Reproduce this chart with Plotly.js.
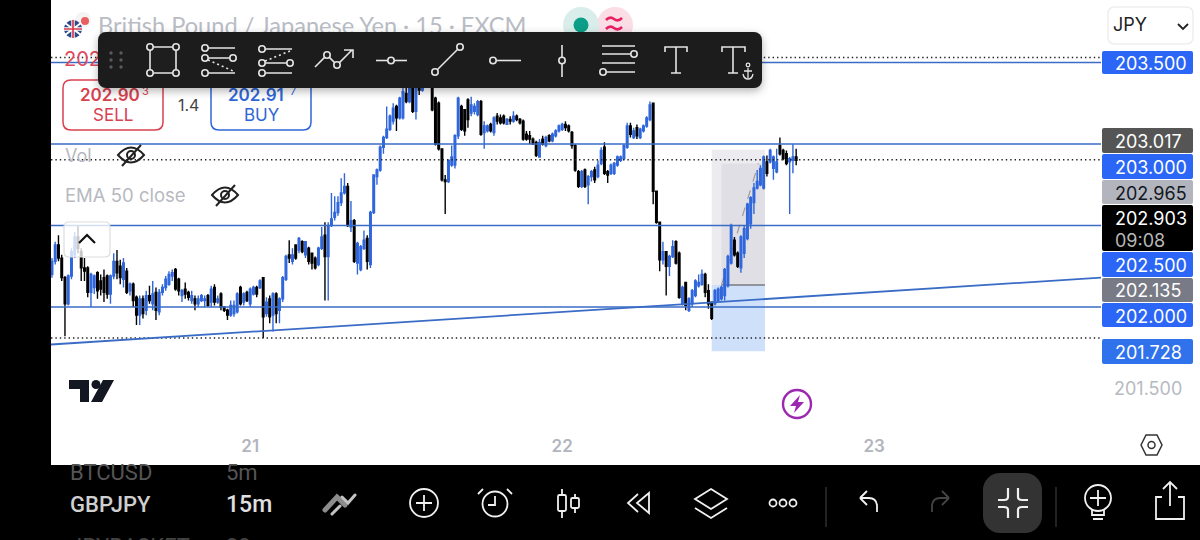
<!DOCTYPE html>
<html><head><meta charset="utf-8">
<script src="https://cdn.plot.ly/plotly-3.0.1.min.js"></script>
<style>html,body{margin:0;padding:0;background:#000;width:1200px;height:540px;overflow:hidden}
#chart{position:absolute;left:0;top:0;width:1200px;height:540px}
#over{position:absolute;left:0;top:0;pointer-events:none}</style></head>
<body><div id="chart"></div>
<svg id="over" width="1200" height="540" viewBox="0 0 1200 540" fill="none">
<defs><filter id="sh" x="-5%" y="-20%" width="110%" height="150%"><feDropShadow dx="0" dy="3" stdDeviation="4" flood-color="#000" flood-opacity=".3"/></filter></defs>
<!-- flags -->
<circle cx="83" cy="20" r="8" fill="#f4f4f4"/><circle cx="85" cy="21" r="4" fill="#e8605f"/>
<circle cx="73" cy="29" r="9" fill="#2c4a8a"/><path d="M65 23L81 35M81 23L65 35" stroke="#fff" stroke-width="2"/><path d="M73 20V38M64 29H82" stroke="#fff" stroke-width="3.4"/><path d="M73 20V38M64 29H82" stroke="#d83a4a" stroke-width="1.7"/>
<!-- status dots -->
<circle cx="615" cy="25" r="18" fill="#fbdde6"/><circle cx="581" cy="25" r="18" fill="#d9eeea"/><circle cx="581" cy="25" r="7.5" fill="#0b9e88"/>
<path d="M606 20q4-4 8-1t8-1M606 29q4-4 8-1t8-1" stroke="#e91e63" stroke-width="2.6"/>
<!-- eye-slash icons -->
<g stroke="#222" stroke-width="2"><g><path d="M118 155q13-15 26 0q-13 15-26 0z"/><circle cx="131" cy="155" r="4"/><path d="M122 166L141 145"/></g>
<g transform="translate(94,40)"><path d="M118 155q13-15 26 0q-13 15-26 0z"/><circle cx="131" cy="155" r="4"/><path d="M122 166L141 145"/></g></g>
<!-- collapse chevron -->
<path d="M79 243L87 235L95 243" stroke="#111" stroke-width="2.2"/>
<!-- TV logo -->
<path d="M69 380H89V402H80V389H69ZM103 380H114L102 402H91Z" fill="#131722"/><circle cx="96" cy="384.5" r="4.5" fill="#131722"/>
<!-- bolt -->
<circle cx="797" cy="404" r="14" stroke="#9c27b0" stroke-width="2.4"/><path d="M800 395L790 406H796L794 413L804 402H798Z" fill="#9c27b0"/>
<!-- settings hex -->
<path d="M1141 445L1146 435H1157L1162 445L1157 455H1146Z" stroke="#333" stroke-width="1.5"/><circle cx="1151.500" cy="445" r="3.500" stroke="#333" stroke-width="1.5"/>
<!-- JPY chevron -->
<path d="M1178 24L1183 29L1188 24" stroke="#222" stroke-width="1.8"/>
<!-- toolbar -->
<g filter="url(#sh)"><rect x="98" y="32" width="664" height="56" rx="8" fill="#1e1e1e"/></g>
<g fill="#5a5a5a"><circle cx="111" cy="53" r="1.7"/><circle cx="121" cy="53" r="1.7"/><circle cx="111" cy="60" r="1.7"/><circle cx="121" cy="60" r="1.7"/><circle cx="111" cy="67" r="1.7"/><circle cx="121" cy="67" r="1.7"/></g>
<g stroke="#e4e4e4" stroke-width="1.6" fill="#1e1e1e">
<path d="M150 47H176V73H150Z"/><circle cx="150" cy="47" r="3.200"/><circle cx="176" cy="47" r="3.200"/><circle cx="150" cy="73" r="3.200"/><circle cx="176" cy="73" r="3.200"/>
<path d="M205 48H235M205 58H233M205 73H235"/><path d="M208 60L233 71" stroke-dasharray="2 3"/><circle cx="205" cy="48" r="3.200"/><circle cx="205" cy="58" r="3.200"/><circle cx="233" cy="58" r="3.200"/><circle cx="205" cy="73" r="3.200"/>
<path d="M262 49H292M262 63H290M262 73H292"/><path d="M265 61L290 51" stroke-dasharray="2 3"/><circle cx="262" cy="49" r="3.200"/><circle cx="262" cy="63" r="3.200"/><circle cx="290" cy="63" r="3.200"/><circle cx="262" cy="73" r="3.200"/>
<path d="M315 67L327 55L337 65L352 50M344 50H353V58" fill="none"/><circle cx="327" cy="55" r="3.200"/><circle cx="337" cy="65" r="3.200"/>
<path d="M376 60.500H407"/><circle cx="391" cy="60.500" r="3.200"/>
<path d="M435 72L460 47"/><circle cx="435" cy="72" r="3.200"/><circle cx="460" cy="47" r="3.200"/>
<path d="M493 60.500H521"/><circle cx="493" cy="60.500" r="3.200"/>
<path d="M562 45V77"/><circle cx="562" cy="60.500" r="3.200"/>
<path d="M602 46H635M602 54H634M602 63H635M603 72H635"/><circle cx="634" cy="54" r="3.200"/><circle cx="603" cy="72" r="3.200"/>
<path d="M665 52V47H687V52M676 47V73M671 73H681" fill="none"/>
<path d="M722 52V47H745V52M733 47V73M728 73H738" fill="none"/>
<path d="M748 68V78M744 71H752M743 74q1 5 5 5q4 0 5-5" fill="none" stroke-width="1.3"/><circle cx="748" cy="65" r="1.800" fill="none" stroke-width="1.3"/>
</g>
<!-- bottom bar icons -->
<path d="M325 510L337 497L345 505" stroke="#8c8c8c" stroke-width="5" stroke-linecap="round"/><path d="M332 514L340 506M342 497L348 503L355 495" stroke="#c4c4c4" stroke-width="3" stroke-linecap="round"/>
<g stroke="#f0f0f0" stroke-width="1.8">
<circle cx="424" cy="503" r="14"/><path d="M424 495V511M416 503H432"/>
<circle cx="495" cy="504" r="12.500"/><path d="M495 496V505H488M483 489L478 494M507 489L512 494"/>
<path d="M562 489V495M562 511V518M575 494V498M575 508V513"/><rect x="558" y="495" width="8" height="16" rx="1.500"/><rect x="571" y="498" width="8" height="10" rx="1.500"/>
<path d="M638 494L628 503L638 512M649 493V513L637 503Z"/>
<path d="M711 489L727 499L711 509L695 499ZM695 508L711 518L727 508"/>
<circle cx="773" cy="503" r="3.500"/><circle cx="783" cy="503" r="3.500"/><circle cx="793" cy="503" r="3.500"/>
<path d="M860 498L867 491M860 498L867 505M860 498H869Q876 498 877 505V512"/>
<path d="M949 498L942 491M949 498L942 505M949 498H940Q933 498 932 505V512" stroke="#444"/>
</g>
<path d="M826 487V527M1056 487V527" stroke="#3a3a3a" stroke-width="1.200"/>
<rect x="983" y="473" width="59" height="60" rx="17" fill="#333"/>
<g stroke="#f0f0f0" stroke-width="2.200"><path d="M1008 488V497Q1008 500 1004 500H998M1018 488V497Q1018 500 1022 500H1028M1008 518V510Q1008 507 1004 507H998M1018 518V510Q1018 507 1022 507H1028"/></g>
<g stroke="#f0f0f0" stroke-width="1.800"><circle cx="1098" cy="498" r="13"/><path d="M1098 490V506M1090 498H1106M1092 510V515H1104V510M1093 519H1103"/>
<path d="M1170 482V506M1163 489L1170 482L1177 489M1162 497H1156V519H1184V497H1178"/></g>
</svg>
<script>
const barIndex = [];
const opens = [
202.20,202.28,202.38,202.30,202.18,202.02,202.19,202.32,202.43,202.34,
202.24,202.24,202.09,202.12,202.21,202.16,202.18,202.19,202.08,202.19,
202.28,202.25,202.17,202.22,202.10,202.14,202.06,201.95,202.05,201.98,
202.07,202.02,202.09,201.97,202.09,202.12,202.14,202.19,202.23,202.17,
202.07,202.11,202.09,202.04,202.05,202.02,202.04,202.04,202.07,202.03,
202.12,202.03,202.08,202.00,201.98,201.95,201.96,201.97,202.12,202.03,
202.09,202.02,202.08,202.12,202.12,202.18,201.96,202.05,201.95,202.08,
201.98,202.05,202.17,202.32,202.28,202.38,202.35,202.40,202.32,202.36,
202.33,202.30,202.26,202.36,202.44,202.31,202.50,202.55,202.58,202.64,
202.70,202.74,202.49,202.53,202.27,202.23,202.36,202.42,202.26,202.58,
202.80,202.84,202.98,203.04,203.09,203.14,203.23,203.16,203.16,203.31,
203.26,203.36,203.20,203.36,203.33,203.36,203.44,203.35,203.28,203.25,
202.97,202.78,202.77,202.87,202.87,203.05,203.23,203.21,203.27,203.19,
203.20,203.18,203.26,203.07,203.08,203.12,203.07,203.17,203.16,203.17,
203.12,203.15,203.14,203.17,203.15,203.14,203.06,203.05,203.03,203.01,
202.92,203.03,202.99,203.05,203.02,203.05,203.08,203.09,203.12,203.11,
203.07,202.99,202.83,202.74,202.84,202.75,202.80,202.84,202.80,202.88,
202.98,202.83,202.82,202.82,202.87,202.90,202.91,202.98,203.11,203.04,
203.10,203.04,203.08,203.11,203.15,203.25,202.71,202.52,202.29,202.34,
202.25,202.31,202.40,202.33,202.02,202.15,201.98,202.02,202.07,202.13,
202.14,202.20,202.10,202.03,202.02,202.04,202.05,202.07,202.13,202.27,
202.41,202.33,202.24,202.33,202.42,202.51,202.64,202.73,202.75,202.73,
202.89,202.89,202.85,202.83,202.99,202.96,202.94,202.89,202.90,202.92];
const highs = [
202.30,202.40,202.44,202.32,202.19,202.20,202.36,202.46,202.50,202.36,
202.30,202.25,202.21,202.20,202.22,202.20,202.23,202.20,202.20,202.33,
202.35,202.29,202.30,202.24,202.15,202.15,202.07,202.07,202.07,202.10,
202.13,202.16,202.12,202.11,202.14,202.19,202.22,202.23,202.24,202.18,
202.11,202.15,202.10,202.10,202.07,202.07,202.08,202.07,202.08,202.13,
202.14,202.07,202.09,202.00,201.99,202.04,202.04,202.09,202.13,202.09,
202.10,202.12,202.13,202.13,202.17,202.18,202.06,202.07,202.09,202.09,
202.06,202.19,202.32,202.41,202.36,202.38,202.43,202.41,202.40,202.37,
202.33,202.31,202.37,202.49,202.52,202.52,202.70,202.68,202.68,202.79,
202.82,202.76,202.65,202.54,202.40,202.38,202.47,202.44,202.59,202.81,
202.85,202.99,203.05,203.23,203.18,203.25,203.24,203.29,203.36,203.37,
203.40,203.40,203.40,203.40,203.42,203.44,203.48,203.38,203.29,203.26,
202.97,202.81,202.90,202.99,203.06,203.29,203.24,203.21,203.28,203.29,
203.25,203.27,203.27,203.14,203.12,203.13,203.17,203.19,203.18,203.18,
203.16,203.17,203.20,203.18,203.16,203.15,203.08,203.08,203.04,203.02,
203.03,203.05,203.05,203.06,203.07,203.09,203.12,203.13,203.14,203.12,
203.08,203.00,202.84,202.84,202.85,202.81,202.84,202.86,202.90,202.98,
203.01,202.84,202.88,202.89,202.93,202.93,203.00,203.13,203.13,203.10,
203.12,203.10,203.12,203.17,203.26,203.25,202.71,202.52,202.40,202.34,
202.32,202.41,202.41,202.34,202.13,202.15,202.06,202.11,202.17,202.20,
202.23,202.21,202.14,202.03,202.11,202.12,202.13,202.24,202.32,202.51,
202.43,202.34,202.44,202.50,202.64,202.68,202.76,202.84,202.87,202.93,
202.93,202.97,202.93,202.97,203.04,202.97,202.96,202.92,203.00,202.97];
const lows = [
202.18,202.26,202.28,202.16,201.82,202.01,202.17,202.30,202.33,202.16,
202.16,202.06,202.00,202.08,202.05,202.07,202.03,202.05,202.02,202.17,
202.17,202.14,202.12,202.08,202.07,202.00,201.89,201.89,201.93,201.95,
202.02,201.98,201.92,201.95,202.07,202.10,202.13,202.16,202.10,202.07,
202.03,202.05,202.04,202.02,201.98,202.00,202.03,202.00,202.00,202.00,
202.01,202.02,201.98,201.97,201.92,201.94,201.94,201.96,202.01,202.01,
202.03,202.00,202.07,202.06,202.11,201.81,201.94,201.90,201.85,201.90,
201.90,202.03,202.16,202.27,202.26,202.29,202.33,202.33,202.30,202.26,
202.23,202.23,202.25,202.35,202.04,202.04,202.49,202.53,202.56,202.62,
202.69,202.49,202.46,202.27,202.20,202.22,202.35,202.23,202.24,202.57,
202.75,202.83,202.94,203.03,203.08,203.12,203.08,203.15,203.15,203.25,
203.25,203.19,203.15,203.30,203.32,203.35,203.38,203.20,202.99,202.96,
202.77,202.57,202.76,202.86,202.85,203.03,203.08,203.05,203.10,203.17,
203.18,203.17,203.05,202.97,203.07,203.07,203.05,203.12,203.12,203.12,
203.12,203.12,203.13,203.14,203.12,203.02,203.02,203.00,203.00,202.92,
202.92,202.99,202.98,203.01,203.01,203.04,203.07,203.08,203.08,203.07,
202.97,202.83,202.73,202.73,202.73,202.63,202.77,202.76,202.79,202.87,
202.81,202.76,202.81,202.81,202.86,202.89,202.90,202.97,203.04,203.03,
203.03,203.03,203.07,203.10,203.14,202.63,202.51,202.22,202.26,202.07,
202.19,202.30,202.26,202.05,202.01,201.98,201.97,202.00,202.06,202.12,
202.13,202.06,201.99,201.92,202.01,202.03,202.04,202.04,202.12,202.26,
202.31,202.24,202.21,202.30,202.41,202.48,202.57,202.72,202.74,202.72,
202.80,202.88,202.78,202.82,202.93,202.90,202.87,202.57,202.82,202.87];
const closes = [
202.28,202.38,202.30,202.18,202.02,202.19,202.34,202.43,202.36,202.24,
202.22,202.09,202.20,202.19,202.10,202.11,202.09,202.08,202.19,202.28,
202.21,202.18,202.27,202.09,202.14,202.04,201.95,202.05,201.96,202.07,
202.04,202.08,201.98,202.09,202.12,202.17,202.20,202.21,202.11,202.10,
202.10,202.08,202.06,202.07,202.02,202.05,202.07,202.05,202.01,202.11,
202.03,202.05,202.00,201.98,201.95,202.01,202.01,202.08,202.02,202.08,
202.04,202.11,202.12,202.08,202.16,201.94,202.03,201.94,202.08,201.96,
202.05,202.18,202.31,202.30,202.32,202.30,202.42,202.34,202.40,202.28,
202.27,202.24,202.36,202.43,202.31,202.50,202.54,202.58,202.64,202.70,
202.74,202.50,202.53,202.28,202.39,202.37,202.41,202.28,202.58,202.81,
202.84,202.98,203.04,203.09,203.17,203.22,203.16,203.28,203.32,203.26,
203.34,203.20,203.36,203.33,203.36,203.40,203.42,203.21,203.00,202.97,
202.78,202.77,202.90,202.92,203.05,203.28,203.09,203.08,203.15,203.24,
203.23,203.26,203.06,203.11,203.11,203.08,203.16,203.14,203.13,203.13,
203.15,203.14,203.17,203.15,203.13,203.03,203.03,203.03,203.00,202.93,
203.01,203.00,203.04,203.02,203.06,203.08,203.11,203.12,203.10,203.08,
202.99,202.84,202.74,202.83,202.74,202.80,202.83,202.78,202.87,202.96,
202.82,202.81,202.87,202.88,202.92,202.92,202.99,203.11,203.06,203.08,
203.05,203.09,203.11,203.16,203.24,202.71,202.52,202.29,202.34,202.25,
202.31,202.37,202.27,202.06,202.12,202.01,202.05,202.10,202.16,202.15,
202.20,202.09,202.02,201.93,202.10,202.11,202.12,202.23,202.31,202.50,
202.32,202.25,202.43,202.48,202.63,202.67,202.73,202.77,202.85,202.92,
202.82,202.96,202.92,202.89,202.94,202.91,202.88,202.91,202.92,202.90];
for (let i = 0; i < closes.length; i++) barIndex.push(i);

const dayTicks = [61, 157, 253];
const dayLabels = ['21', '22', '23'];
const priceTicks = [201.5];
const solidLevels = [203.5, 203.0, 202.5, 202.0];
const dottedLevels = [203.53, 202.903, 201.81];
const trendBars = [-0.3, 322.8];
const trendPrices = [201.77, 202.18];
const positionBars = [203, 219.4];
const positionInnerBar = 206;
const target = 202.965, entry = 202.135, stop = 201.728, innerTop = 202.88;
const priceTags = ['203.500','203.017','203.000','202.965','202.903','202.500','202.135','202.000','201.728'];
const tagColors = ['#2b66f6','#555555','#2b66f6','#b2b5be','#000000','#2b66f6','#787b86','#2b66f6','#2f72ec'];
const tagTextColors = ['#fff','#fff','#fff','#131722','#fff','#fff','#fff','#fff','#fff'];
const tagTop = [51,128,154,180,205,252,278,303,339];
const tagBot = [74,153,179,204,251,277,302,327,364];

const L=51,R=1101,B=465;
const px=x=>(x-L)/(R-L), py=y=>(B-y)/B;
const F='Inter, sans-serif', RB='Roboto, sans-serif';
function note(text,x,y,size,color,extra){return Object.assign({text,x:px(x-2),y:py(y),xref:'paper',yref:'paper',xanchor:'left',yanchor:'middle',showarrow:false,font:{family:F,size,color}},extra||{});}
function box(x0,y0,x1,y1,o){return Object.assign({type:'rect',xref:'paper',yref:'paper',x0:px(x0),x1:px(x1),y0:py(y0),y1:py(y1),line:{width:0},layer:'above'},o||{});}
function rr(x0,y0,x1,y1,r,o){const a=px(x0),b=px(x1),c=py(y0),d=py(y1),rx=r/(R-L),ry=r/B;
 return Object.assign({type:'path',xref:'paper',yref:'paper',layer:'above',
  path:`M${a+rx},${c}L${b-rx},${c}Q${b},${c} ${b},${c-ry}L${b},${d+ry}Q${b},${d} ${b-rx},${d}L${a+rx},${d}Q${a},${d} ${a},${d+ry}L${a},${c-ry}Q${a},${c} ${a+rx},${c}Z`},o);}

const shapes=[
 {type:'rect',xref:'x',yref:'y',x0:positionBars[0],x1:positionBars[1],y0:entry,y1:target,fillcolor:'#ececf0',line:{width:0},layer:'below'},
 {type:'rect',xref:'x',yref:'y',x0:positionInnerBar,x1:positionBars[1],y0:entry,y1:innerTop,fillcolor:'#dfdfe5',line:{width:0},layer:'below'},
 {type:'rect',xref:'x',yref:'y',x0:positionBars[0],x1:positionBars[1],y0:stop,y1:entry,fillcolor:'#cfe0fb',line:{width:0},layer:'below'},
 {type:'line',xref:'x',yref:'y',x0:positionInnerBar,x1:positionBars[1],y0:entry,y1:entry,line:{color:'#7a7a80',width:1.5},layer:'below'},
 {type:'line',xref:'x',yref:'y',x0:positionInnerBar,x1:positionBars[1]-2,y0:entry,y1:innerTop,line:{color:'#9a9aa0',width:1.2,dash:'dash'},layer:'below'},
];
dottedLevels.forEach(v=>shapes.push({type:'line',xref:'paper',yref:'y',x0:0,x1:1,y0:v,y1:v,line:{color:'#222',width:1.4,dash:'1.4px,3px'},layer:'above'}));
solidLevels.forEach(v=>shapes.push({type:'line',xref:'paper',yref:'y',x0:0,x1:1,y0:v,y1:v,line:{color:'#3a6cc6',width:1.6},layer:'above'}));
shapes.push({type:'line',xref:'x',yref:'y',x0:trendBars[0],x1:trendBars[1],y0:trendPrices[0],y1:trendPrices[1],line:{color:'#3a6cc6',width:1.8},layer:'above'});
// chrome
shapes.push(box(0,0,51,540,{fillcolor:'#000'}));
shapes.push(box(0,465,1200,540,{fillcolor:'#000'}));
shapes.push(rr(64,222,110,257,5,{fillcolor:'rgba(255,255,255,0.78)',line:{color:'#dddddd',width:1.2}}));
shapes.push(rr(63,80,163,130,8,{fillcolor:'#fff',line:{color:'#d9414f',width:1.5}}));
shapes.push(rr(211,80,311,130,8,{fillcolor:'#fff',line:{color:'#2f66d8',width:1.5}}));
shapes.push(rr(1108,7,1193,44,7,{fillcolor:'#fff',line:{color:'#eeeeee',width:1.5}}));
priceTags.forEach((t,i)=>shapes.push(rr(1102,tagTop[i],1193,tagBot[i],2,{fillcolor:tagColors[i],line:{width:0}})));

const annotations=[
 note('British Pound / Japanese Yen · 15 · FXCM',98,25,24,'#b9bcc4',{font:{family:'Lato, sans-serif',size:23.6,color:'#b9bcc4'}}),
 note('202.903',64,59,20,'#dd4a5f'),
 note('202.90',80,95,17,'#d9414f',{font:{family:F,size:17,color:'#d9414f',weight:600}}),
 note('3',142,91,11,'#d9414f'),
 note('SELL',93,115,17,'#d9414f'),
 note('1.4',178,105,16,'#444'),
 note('202.91',228,95,17,'#2f66d8',{font:{family:F,size:17,color:'#2f66d8',weight:600}}),
 note('7',290,91,11,'#2f66d8'),
 note('BUY',244,115,17,'#2f66d8'),
 note('Vol',65,155,18,'#b7b9c1'),
 note('EMA 50 close',65,195,18.5,'#b7b9c1'),
 note('JPY',1113,25,18,'#222'),
 note('BTCUSD',70,472,22,'#555',{font:{family:RB,size:22,color:'#555'}}),
 note('5m',226,472,22,'#555',{font:{family:RB,size:22,color:'#555'}}),
 note('GBPJPY',70,505,22,'#ccc',{font:{family:RB,size:22,color:'#cfcfcf',weight:500}}),
 note('15m',226,505,23,'#ddd',{font:{family:RB,size:23,color:'#e0e0e0',weight:500}}),
 note('JPYBASKET',70,546,22,'#444',{font:{family:RB,size:22,color:'#444'}}),
 note('30m',226,546,22,'#444',{font:{family:RB,size:22,color:'#444'}}),
];
priceTags.forEach((t,i)=>{
  annotations.push(note(t,1115,(tagTop[i]+tagBot[i])/2+1-(i===4?11:0),18,tagTextColors[i]));
});
annotations.push(note('09:08',1115,240,18,'#b8b8b8'));

const trace={type:'candlestick',x:barIndex,open:opens,high:highs,low:lows,close:closes,
 increasing:{line:{color:'#2f66dc',width:1.4},fillcolor:'#2f66dc'},
 decreasing:{line:{color:'#000',width:1.4},fillcolor:'#000'},
 whiskerwidth:0,hoverinfo:'skip',showlegend:false};

const layout={width:1200,height:540,margin:{l:L,r:1200-R,t:0,b:540-B,pad:0},
 paper_bgcolor:'#fff',plot_bgcolor:'#fff',showlegend:false,
 xaxis:{range:[-0.3,322.8],rangeslider:{visible:false},tickmode:'array',tickvals:dayTicks,ticktext:dayLabels,
   ticklabelposition:'inside',ticklabelstandoff:7,ticks:'',showgrid:false,zeroline:false,showline:false,fixedrange:true,
   tickfont:{family:F,size:17,color:'#b2b5be',weight:600}},
 yaxis:{range:[201.031,203.883],side:'right',tickmode:'array',tickvals:priceTicks,ticktext:priceTicks.map(v=>v.toFixed(3)),
   ticks:'',ticklen:0,ticklabelstandoff:12,showgrid:false,zeroline:false,showline:false,fixedrange:true,
   tickfont:{family:F,size:18,color:'#b7b9c1'}},
 shapes,annotations,hovermode:false};
Plotly.newPlot('chart',[trace],layout,{displayModeBar:false,staticPlot:true});
</script></body></html>
